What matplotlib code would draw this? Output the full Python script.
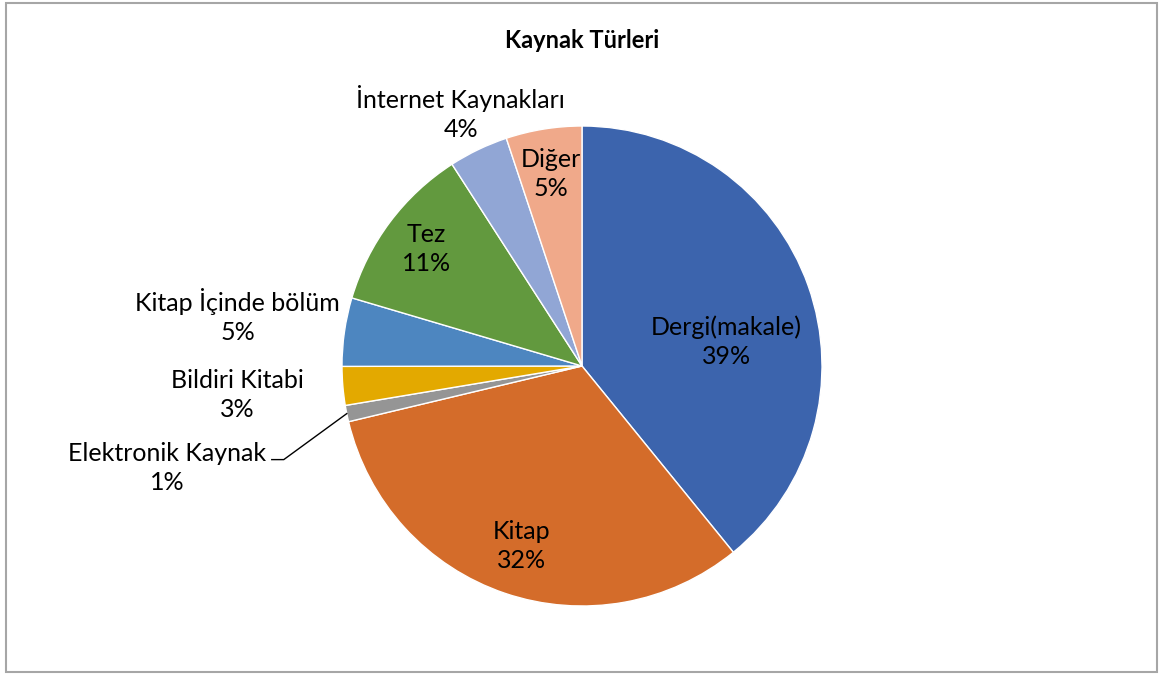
import numpy as np
import matplotlib
matplotlib.use("Agg")
import matplotlib.pyplot as plt
from matplotlib.patches import Rectangle

FONT = "Lato"

categories = ["Dergi(makale)", "Kitap", "Elektronik Kaynak", "Bildiri Kitabi",
              "Kitap İçinde bölüm", "Tez", "İnternet Kaynakları", "Diğer"]
shares = [39.1, 32.1, 1.1, 2.6, 4.6, 11.3, 4.0, 5.1]
colors = ["#3C64AD", "#D46C2A", "#959595", "#E3A900",
          "#4D86C0", "#62993E", "#91A6D5", "#F0A98A"]

# label placement: radius (fraction of pie radius) and angle shift (deg)
label_r = [0.61, 0.79, None, 1.44, 1.45, 0.81, 1.17, 0.81]
label_dang = [-10, 0, 0, 0, 0, 0, 0, 0]

W, H = 1164, 675
fig = plt.figure(figsize=(W / 100, H / 100), dpi=100)
ax = fig.add_axes([0, 0, 1, 1])
ax.set_xlim(0, W)
ax.set_ylim(0, H)
ax.set_aspect("equal")
ax.axis("off")

# chart frame
ax.add_patch(Rectangle((6, 3), 1151, 669, fill=False, edgecolor="#A6A6A6", lw=1.5))

cx, cy, R = 582, H - 366, 240
wedges, _ = ax.pie(shares, colors=colors, startangle=90, counterclock=False,
                   center=(cx, cy), radius=R,
                   wedgeprops=dict(edgecolor="white", linewidth=1))
ax.set_xlim(0, W)
ax.set_ylim(0, H)

FS = 18
LS = 1.32
total = sum(shares)
for w, name, val, r, da in zip(wedges, categories, shares, label_r, label_dang):
    mid = np.deg2rad((w.theta1 + w.theta2) / 2 + da)
    txt = f"{name}\n{round(val / total * 100):.0f}%"
    if r is None:
        # leader line for the thin slice
        ex, ey = cx + R * np.cos(mid), cy + R * np.sin(mid)
        tx, ty = ex - 180, ey - 54
        ax.plot([ex, ex - 63, ex - 75], [ey, ey - 46, ey - 46], color="black", lw=1)
        ax.text(tx, ty, txt, ha="center", va="center", fontsize=FS,
                family=FONT, linespacing=LS)
    else:
        ax.text(cx + r * R * np.cos(mid), cy + r * R * np.sin(mid), txt,
                ha="center", va="center", fontsize=FS, family=FONT, linespacing=LS)

ax.text(582, H - 40, "Kaynak Türleri", ha="center", va="center",
        fontsize=17, fontweight="bold", family=FONT)

fig.savefig("out.png", dpi=100)
